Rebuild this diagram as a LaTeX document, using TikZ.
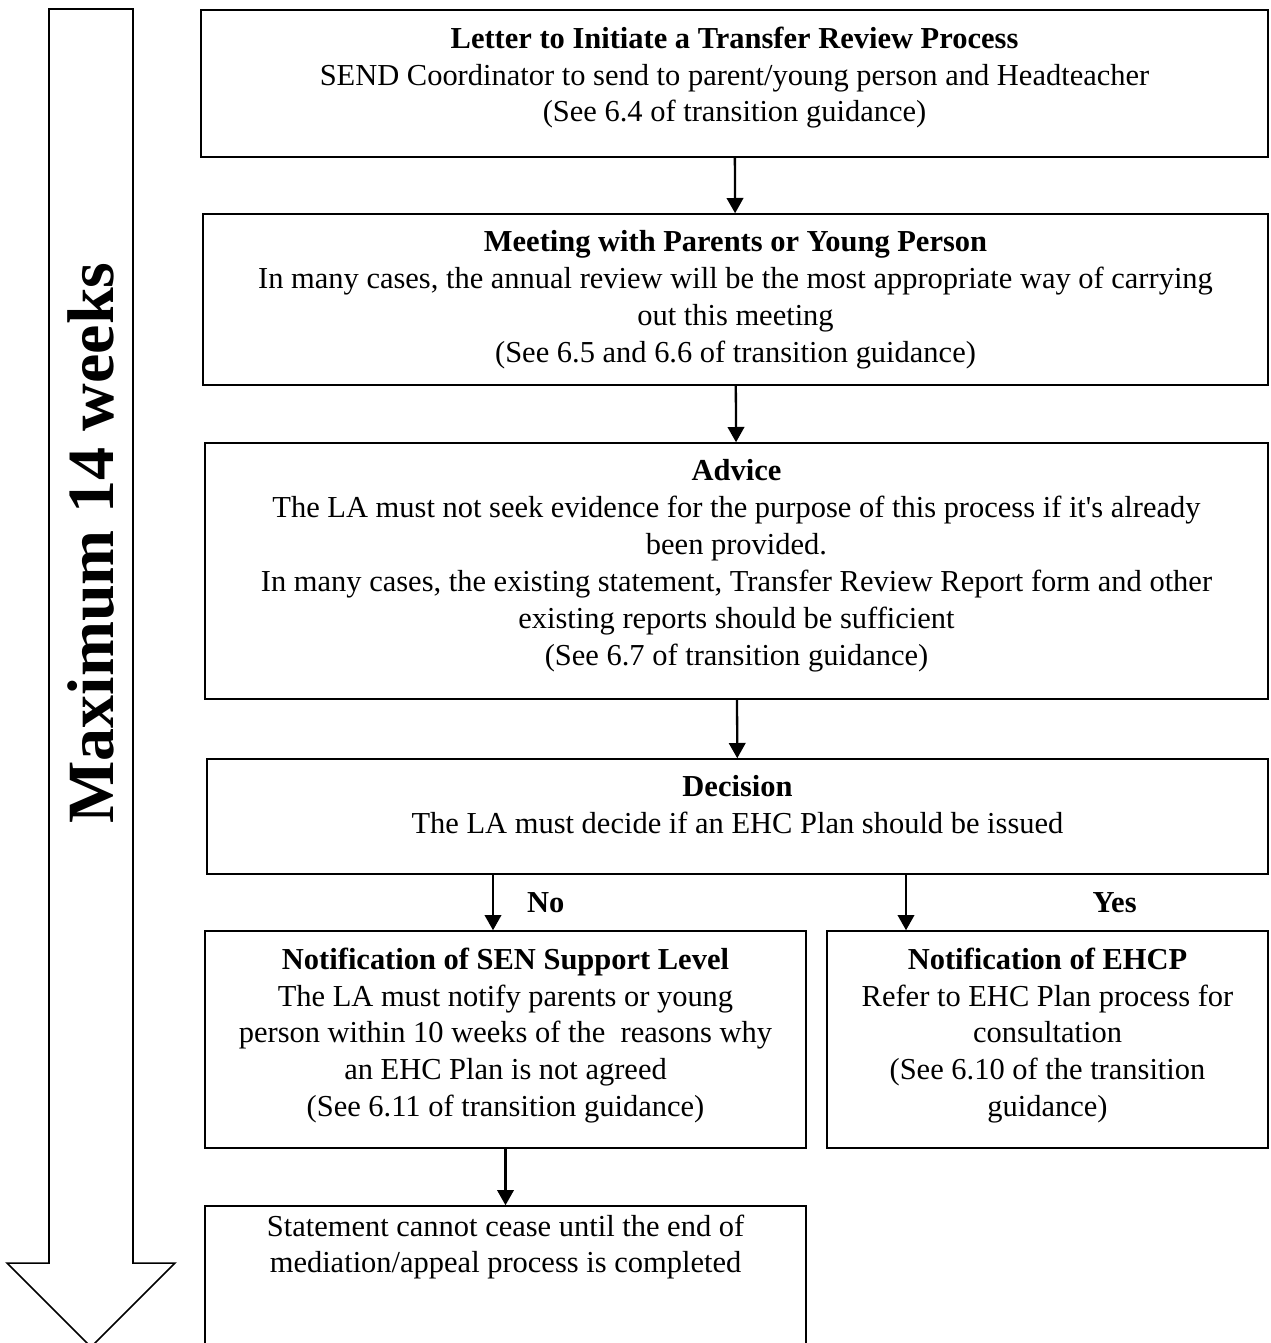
\documentclass[tikz,border=0pt]{standalone}
\usepackage{fontspec}
\setmainfont{Liberation Serif}[Ligatures=TeXOff]
\usetikzlibrary{arrows.meta, positioning, fit}

\begin{document}
\begin{tikzpicture}[
  x = 0.3937pt, y = -0.3937pt,           % one unit is one pixel of the page
  > = {Triangle[length=6pt, width=6.5pt]}, % arrow head style
  line width = 0.6pt,
  node distance = 6.6pt                  % gap between box top and its text
  ]

  \tikzstyle{B1}=[      % Defines style for the boxes
  draw,
  inner sep = 0pt
  ]

  \tikzstyle{T1}=[      % Defines style for the text in the boxes
  align = center,
  inner sep = 0pt,
  font = \fontsize{12}{14.5}\selectfont
  ]

  \tikzstyle{L1}=[      % Defines style for the No / Yes labels
  inner sep = 0pt,
  font = \fontsize{12}{14.5}\selectfont\bfseries
  ]

  \tikzstyle{A1}=[->, line width = 0.9pt]

  \useasboundingbox (0,0) rectangle (1270,1343);
  \clip (0,0) rectangle (1270,1343);

  % big arrow on the left
  \draw (49,9) -- (133,9) -- (133,1263) -- (175,1263) -- (91,1347)
    -- (7,1263) -- (49,1263) -- cycle;
  \node[rotate=90, inner sep=0pt, font=\fontsize{26}{30}\selectfont\bfseries] (weeks)
    at (91,543) {Maximum 14 weeks};

  % Definition of the boxes
  \node[B1, fit={(201,10) (1268,157)}] (letter) {};
  \node[B1, fit={(203,214) (1268,385)}] (meeting) {};
  \node[B1, fit={(205,443) (1268,699)}] (advice) {};
  \node[B1, fit={(207,759) (1268,874)}] (decision) {};
  \node[B1, fit={(205,931) (806,1148)}] (no) {};
  \node[B1, fit={(827,931) (1268,1148)}] (yes) {};
  \node[B1, fit={(205,1206) (806,1360)}] (final) {};

  % Text of the boxes
  \node[T1] (letter-t) [below=of letter.north] {\textbf{Letter to Initiate a Transfer Review Process}\\
    SEND Coordinator to send to parent/young person and Headteacher\\
    (See 6.4 of transition guidance)};
  \node[T1] (meeting-t) [below=of meeting.north] {\textbf{Meeting with Parents or Young Person}\\
    In many cases, the annual review will be the most appropriate way of carrying\\
    out this meeting\\
    (See 6.5 and 6.6 of transition guidance)};
  \node[T1] (advice-t) [below=of advice.north] {\textbf{Advice}\\
    The LA must not seek evidence for the purpose of this process if it's already\\
    been provided.\\
    In many cases, the existing statement, Transfer Review Report form and other\\
    existing reports should be sufficient\\
    (See 6.7 of transition guidance)};
  \node[T1] (decision-t) [below=of decision.north] {\textbf{Decision}\\
    The LA must decide if an EHC Plan should be issued};
  \node[T1] (no-t) [below=of no.north] {\textbf{Notification of SEN Support Level}\\
    The LA must notify parents or young\\
    person within 10 weeks of the \ reasons why\\
    an EHC Plan is not agreed\\
    (See 6.11 of transition guidance)};
  \node[T1] (yes-t) [below=of yes.north] {\textbf{Notification of EHCP}\\
    Refer to EHC Plan process for\\
    consultation\\
    (See 6.10 of the transition\\
    guidance)};
  \node[T1] (final-t) [below=3.4pt of final.north] {Statement cannot cease until the end of\\
    mediation/appeal process is completed};

  % Connectors
  \coordinate (nox) at (493,0);
  \coordinate (yesx) at (906,0);
  \path[A1] (letter) edge (meeting);
  \path[A1] (meeting) edge (advice);
  \path[A1] (advice) edge (decision);
  \draw[A1] (decision.south -| nox) -- (no.north -| nox)
    node[L1, midway, right=13pt] (no-l) {No};
  \draw[A1] (decision.south -| yesx) -- (yes.north -| yesx)
    node[L1, midway, right=73pt] (yes-l) {Yes};
  \path[A1] (no) edge (final);
\end{tikzpicture}
\end{document}
